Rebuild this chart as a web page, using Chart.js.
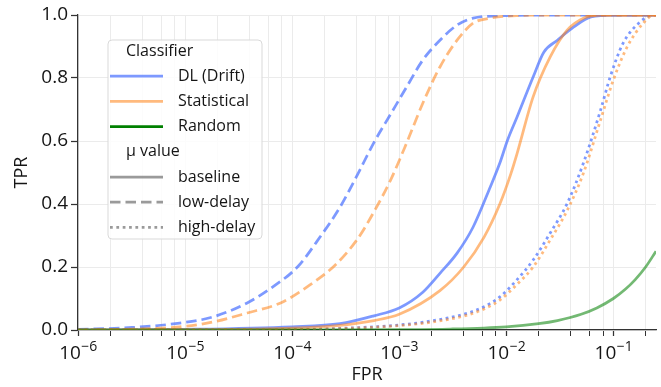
<!DOCTYPE html>
<html>
<head>
<meta charset="utf-8">
<script src="https://cdn.jsdelivr.net/npm/chart.js@4.4.1/dist/chart.umd.min.js"></script>
<style>
html,body{margin:0;padding:0;background:#ffffff;}
canvas{display:block;}
</style>
</head>
<body>
<canvas id="c" width="661" height="387"></canvas>
<script>
// ---- data ----
const dlBaseFPR = [1e-6, 1e-5, 1e-4, 2.8e-4, 5.8e-4, 1.0e-3, 1.66e-3, 2.4e-3, 3.47e-3, 4.9e-3, 7.1e-3, 8.7e-3, 0.0102, 0.0126, 0.0178, 0.0224, 0.030, 0.0427, 0.0617, 0.1, 0.25];
const dlBaseTPR = [0, 0.002, 0.01, 0.02, 0.045, 0.07, 0.12, 0.18, 0.244, 0.327, 0.455, 0.53, 0.60, 0.676, 0.803, 0.882, 0.92, 0.962, 0.994, 1.0, 1.0];

const statBaseFPR = [1e-6, 1e-5, 1e-4, 2.8e-4, 5.8e-4, 1.0e-3, 2.4e-3, 4e-3, 6.2e-3, 8.7e-3, 0.011, 0.0126, 0.0178, 0.0257, 0.037, 0.0525, 0.079, 0.25];
const statBaseTPR = [0, 0.001, 0.006, 0.015, 0.03, 0.05, 0.125, 0.20, 0.295, 0.40, 0.495, 0.56, 0.74, 0.867, 0.952, 0.99, 1.0, 1.0];

const dlLowFPR = [1e-6, 3.2e-6, 8.9e-6, 1.8e-5, 3.8e-5, 6.6e-5, 1.12e-4, 1.82e-4, 2.8e-4, 4.1e-4, 5.8e-4, 8.3e-4, 1.17e-3, 1.66e-3, 2.4e-3, 3.47e-3, 4.9e-3, 0.01, 0.03, 0.25];
const dlLowTPR = [0.002, 0.008, 0.022, 0.041, 0.086, 0.137, 0.20, 0.295, 0.39, 0.495, 0.595, 0.685, 0.771, 0.857, 0.92, 0.968, 0.99, 0.998, 1.0, 1.0];

const statLowFPR = [1e-6, 3.2e-6, 8.9e-6, 1.8e-5, 3.8e-5, 7.8e-5, 1.38e-4, 2.5e-4, 4.1e-4, 5.8e-4, 8.3e-4, 1.17e-3, 1.66e-3, 2.4e-3, 3.47e-3, 4.9e-3, 7.1e-3, 0.0126, 0.03, 0.25];
const statLowTPR = [0, 0.003, 0.01, 0.025, 0.054, 0.086, 0.137, 0.205, 0.29, 0.375, 0.476, 0.593, 0.72, 0.835, 0.92, 0.974, 0.99, 0.998, 1.0, 1.0];

const dlHighFPR = [1e-6, 1e-4, 3.2e-4, 1.0e-3, 2.0e-3, 4.4e-3, 6.2e-3, 8.7e-3, 0.0126, 0.0178, 0.0257, 0.0372, 0.0525, 0.0759, 0.0933, 0.123, 0.178, 0.234, 0.25];
const dlHighTPR = [0, 0.002, 0.006, 0.016, 0.029, 0.054, 0.074, 0.105, 0.16, 0.222, 0.308, 0.403, 0.53, 0.698, 0.803, 0.91, 0.978, 1.0, 1.0];

const statHighFPR = [1e-6, 1e-4, 3.2e-4, 1.0e-3, 2.0e-3, 4.4e-3, 6.2e-3, 8.7e-3, 0.0126, 0.0178, 0.0257, 0.0372, 0.0525, 0.0759, 0.1, 0.135, 0.19, 0.24, 0.25];
const statHighTPR = [0, 0.001, 0.005, 0.014, 0.025, 0.048, 0.067, 0.095, 0.145, 0.20, 0.286, 0.381, 0.498, 0.667, 0.794, 0.90, 0.974, 1.0, 1.0];

const randomFPR = [1e-6, 1e-5, 1e-4, 1e-3, 0.003, 0.01, 0.02, 0.03, 0.05, 0.07, 0.1, 0.13, 0.16, 0.2, 0.25];
const randomTPR = [1e-6, 1e-5, 1e-4, 1e-3, 0.003, 0.01, 0.02, 0.03, 0.05, 0.07, 0.1, 0.13, 0.16, 0.2, 0.25];

const xMajorTicks = [1e-6, 1e-5, 1e-4, 1e-3, 1e-2, 1e-1];
const xMajorBase = '10';
const xMajorExponents = ['\u22126', '\u22125', '\u22124', '\u22123', '\u22122', '\u22121'];
const xMinorTicks = [2e-6,4e-6,6e-6,8e-6, 2e-5,4e-5,6e-5,8e-5, 2e-4,4e-4,6e-4,8e-4, 2e-3,4e-3,6e-3,8e-3, 2e-2,4e-2,6e-2,8e-2, 0.2];
const yTicks = [0, 0.2, 0.4, 0.6, 0.8, 1.0];

const classifierNames = ['DL (Drift)', 'Statistical', 'Random'];
const muNames = ['baseline', 'low-delay', 'high-delay'];

// ---- styles ----
const BLUE = 'rgba(70,110,255,0.7)';
const ORANGE = 'rgba(255,130,20,0.55)';
const GREEN = 'rgba(0,128,0,0.55)';
const LEG_GREEN = 'rgb(0,128,0)';
const GREY = 'rgba(120,120,120,0.75)';
const LW = 2.75;
const DASH = {baseline: [], 'low-delay': [10.5, 5], 'high-delay': [2.75, 3.6]};
const FONT = "'Open Sans', 'Noto Sans', 'DejaVu Sans', sans-serif";
const TXT = '#151515';

function pts(xs, ys){ return xs.map((x,i)=>({x:x, y:ys[i]})); }
function ds(label, xs, ys, color, dash){
  return {label, data: pts(xs, ys), borderColor: color, backgroundColor: color,
    borderWidth: LW, borderDash: dash, pointRadius: 0, fill: false,
    cubicInterpolationMode: 'monotone', borderCapStyle: 'butt'};
}

// datasets listed so that Random, then Statistical are drawn above DL
const datasets = [
  ds('Random', randomFPR, randomTPR, GREEN, []),
  ds('Statistical baseline', statBaseFPR, statBaseTPR, ORANGE, DASH.baseline),
  ds('Statistical low-delay', statLowFPR, statLowTPR, ORANGE, DASH['low-delay']),
  ds('Statistical high-delay', statHighFPR, statHighTPR, ORANGE, DASH['high-delay']),
  ds('DL (Drift) baseline', dlBaseFPR, dlBaseTPR, BLUE, DASH.baseline),
  ds('DL (Drift) low-delay', dlLowFPR, dlLowTPR, BLUE, DASH['low-delay']),
  ds('DL (Drift) high-delay', dlHighFPR, dlHighTPR, BLUE, DASH['high-delay'])
];

function isMajor(v){ return xMajorTicks.some(m => Math.abs(m - v) / m < 1e-6); }

// x tick labels as 10 with a raised exponent
const logLabelPlugin = {
  id: 'logLabels',
  afterDraw(chart){
    const ctx = chart.ctx, sx = chart.scales.x;
    const yBase = sx.top + 29;
    ctx.save();
    ctx.fillStyle = TXT;
    ctx.textBaseline = 'alphabetic';
    ctx.textAlign = 'left';
    xMajorTicks.forEach((v, i) => {
      const px = sx.getPixelForValue(v);
      ctx.font = '19px ' + FONT;
      const w1 = ctx.measureText(xMajorBase).width;
      ctx.font = '14px ' + FONT;
      const w2 = ctx.measureText(xMajorExponents[i]).width;
      const left = px - (w1 + w2) / 2;
      ctx.font = '19px ' + FONT;
      ctx.fillText(xMajorBase, left, yBase);
      ctx.font = '14px ' + FONT;
      ctx.fillText(xMajorExponents[i], left + w1 + 0.5, yBase - 8);
    });
    ctx.restore();
  }
};

const legendPlugin = {
  id: 'twoSectionLegend',
  afterDraw(chart){
    const ctx = chart.ctx;
    const a = chart.chartArea;
    const x0 = a.left + 30, y0 = a.top + 25, w = 154, h = 199;
    ctx.save();
    ctx.beginPath();
    ctx.roundRect(x0, y0, w, h, 4);
    ctx.fillStyle = 'rgba(255,255,255,0.85)';
    ctx.fill();
    ctx.strokeStyle = '#d9d9d9';
    ctx.lineWidth = 1;
    ctx.stroke();

    const rowH = 25.2;
    const lineX0 = x0 + 2, lineX1 = x0 + 55, textX = x0 + 70;
    ctx.font = '16px ' + FONT;
    ctx.textBaseline = 'middle';
    ctx.fillStyle = TXT;
    let y = y0 + 11;
    ctx.fillText('Classifier', x0 + 18, y);
    const cColors = [BLUE, ORANGE, LEG_GREEN];
    classifierNames.forEach((n, i) => {
      y += rowH;
      ctx.beginPath(); ctx.setLineDash([]);
      ctx.strokeStyle = cColors[i]; ctx.lineWidth = LW;
      ctx.moveTo(lineX0, y); ctx.lineTo(lineX1, y); ctx.stroke();
      ctx.fillStyle = TXT; ctx.fillText(n, textX, y);
    });
    y += rowH;
    ctx.fillText('\u03BC value', x0 + 18, y);
    muNames.forEach((n) => {
      y += rowH;
      ctx.beginPath(); ctx.setLineDash(DASH[n]);
      ctx.strokeStyle = GREY; ctx.lineWidth = LW;
      ctx.moveTo(lineX0, y); ctx.lineTo(lineX1, y); ctx.stroke();
      ctx.setLineDash([]);
      ctx.fillStyle = TXT; ctx.fillText(n, textX, y);
    });
    ctx.restore();
  }
};

new Chart(document.getElementById('c'), {
  type: 'line',
  data: { datasets },
  plugins: [legendPlugin, logLabelPlugin],
  options: {
    responsive: false,
    devicePixelRatio: 1,
    animation: false,
    layout: { padding: { top: 15, right: 5, left: 0, bottom: 0 } },
    plugins: { legend: { display: false }, tooltip: { enabled: false } },
    scales: {
      x: {
        type: 'logarithmic',
        min: 1e-6, max: 0.25,
        afterFit(s){ s.height = 57; },
        afterBuildTicks(s){
          s.ticks = xMajorTicks.concat(xMinorTicks).sort((a,b)=>a-b).map(v => ({value: v, major: isMajor(v)}));
        },
        ticks: { display: false, autoSkip: false, maxRotation: 0 },
        grid: {
          color: '#ebebeb', lineWidth: 1, drawTicks: true, tickLength: 6,
          tickColor: '#333333', tickWidth: ctx => (ctx.tick && ctx.tick.major ? 1.25 : 1)
        },
        border: { display: true, color: '#333333', width: 1.25 },
        title: { display: true, text: 'FPR', color: TXT, font: { family: FONT, size: 18 }, padding: { top: 0, bottom: 1 } }
      },
      y: {
        type: 'linear',
        min: 0, max: 1,
        afterFit(s){ s.width = 78; },
        afterBuildTicks(s){ s.ticks = yTicks.map(v => ({value: v})); },
        ticks: {
          padding: 3, color: TXT, font: { family: FONT, size: 19 },
          callback(v){ return Number(v).toFixed(1); }
        },
        grid: { color: '#ebebeb', lineWidth: 1, tickLength: 7, tickColor: '#333333', tickWidth: 1.25 },
        border: { display: true, color: '#333333', width: 1.25 },
        title: { display: true, text: 'TPR', color: TXT, font: { family: FONT, size: 18 }, padding: { top: 11, bottom: 0 } }
      }
    }
  }
});
</script>
</body>
</html>
